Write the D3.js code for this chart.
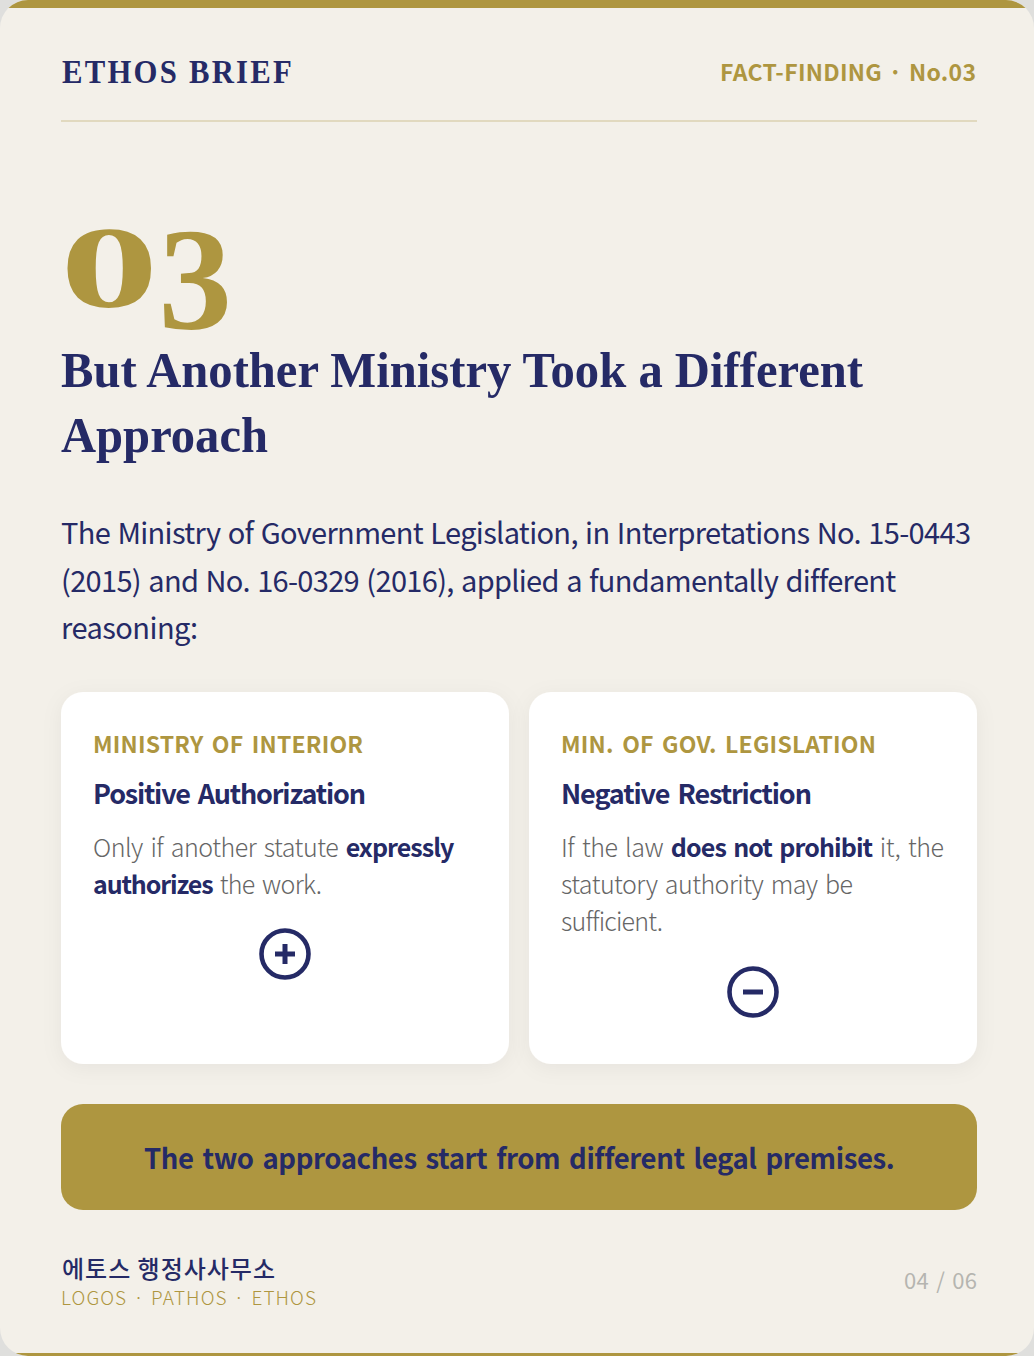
<!DOCTYPE html>
<html>
<head>
<meta charset="utf-8">
<script src="https://d3js.org/d3.v7.min.js"></script>
<style>
html, body { margin: 0; padding: 0; background: #dfdfdd; }
svg { display: block; }
</style>
</head>
<body>
<div id="card"></div>
<script>
// Text content
var brand = "ETHOS BRIEF";
var tag = "FACT-FINDING · No.03";
var bigNumber = ["0", "3"];
var titleLines = ["But Another Ministry Took a Different", "Approach"];
var introLines = [
    "The Ministry of Government Legislation, in Interpretations No. 15-0443",
    "(2015) and No. 16-0329 (2016), applied a fundamentally different",
    "reasoning:"
];
var cardLabels = ["MINISTRY OF INTERIOR", "MIN. OF GOV. LEGISLATION"];
var cardTitles = ["Positive Authorization", "Negative Restriction"];
// each line is a list of [text, bold?] runs
var cardBodies = [
    [[["Only if another statute ", 0], ["expressly", 1]],
     [["authorizes", 1], [" the work.", 0]]],
    [[["If the law ", 0], ["does not prohibit", 1], [" it, the", 0]],
     [["statutory authority may be", 0]],
     [["sufficient.", 0]]]
];
var cardIcons = ["plus", "minus"];
var bannerText = "The two approaches start from different legal premises.";
var footerName = "에토스 행정사사무소";
var footerSub = "LOGOS · PATHOS · ETHOS";
var pageLabel = "04 / 06";

var navy = "#252a66", gold = "#ae9640", paper = "#f3f0e9", grey = "#666666";
var sans = "'Noto Sans CJK KR', 'Noto Sans', sans-serif";
var serif = "'Liberation Serif', serif";

var W = 1034, H = 1356;
var svg = d3.select("#card").append("svg")
    .attr("width", W)
    .attr("height", H)
    .attr("viewBox", "0 0 " + W + " " + H);

var defs = svg.append("defs");
var shadow = defs.append("filter").attr("id", "shadow")
    .attr("x", "-10%").attr("y", "-10%").attr("width", "120%").attr("height", "125%");
shadow.append("feDropShadow")
    .attr("dx", 0).attr("dy", 4).attr("stdDeviation", 10)
    .attr("flood-color", "#000").attr("flood-opacity", 0.05);
defs.append("clipPath").attr("id", "pageClip").append("rect")
    .attr("width", W).attr("height", H).attr("rx", 28).attr("ry", 28);

// Page with gold edges
var page = svg.append("g").attr("clip-path", "url(#pageClip)");
page.append("rect").attr("width", W).attr("height", H).attr("fill", paper);
page.append("rect").attr("width", W).attr("height", 8).attr("fill", gold);
page.append("rect").attr("y", H - 3).attr("width", W).attr("height", 3).attr("fill", gold);

// Adds a line of text with extra word gaps, letters take up the rest of the width
function addLine(parent, str, x, y, size, weight, color, family, width, wordGap) {
    var t = parent.append("text")
        .attr("x", x).attr("y", y)
        .attr("font-size", size).attr("font-weight", weight)
        .attr("font-family", family).attr("fill", color)
        .attr("word-spacing", wordGap || 0)
        .text(str);
    var len = t.node().getComputedTextLength();
    t.attr("letter-spacing", ((width - len) / (str.length - 1)).toFixed(3));
    return t;
}

// Header
svg.append("text")
    .attr("x", 62).attr("y", 83)
    .attr("font-size", 34.5).attr("font-weight", 700)
    .attr("font-family", serif).attr("fill", navy)
    .attr("letter-spacing", 2.5)
    .attr("textLength", 232).attr("lengthAdjust", "spacingAndGlyphs")
    .text(brand);
addLine(svg, tag, 720, 80.5, 23, 700, gold, sans, 256, 1);
svg.append("line")
    .attr("x1", 61).attr("x2", 977).attr("y1", 121).attr("y2", 121)
    .attr("stroke", "#e1d9bf").attr("stroke-width", 2);

// Big number, the second digit hangs below the baseline
var num = svg.append("text")
    .attr("x", 60).attr("y", 307)
    .attr("font-family", serif).attr("font-weight", 700).attr("fill", gold);
num.append("tspan").attr("font-size", 116).attr("textLength", 98.5)
    .attr("lengthAdjust", "spacingAndGlyphs").text(bigNumber[0]);
num.append("tspan").attr("font-size", 146).attr("dy", 22).attr("textLength", 73.5)
    .attr("lengthAdjust", "spacingAndGlyphs").text(bigNumber[1]);

// Title
var titleY = d3.scalePoint().domain(titleLines).range([387, 452]);
var titleWidths = [802, 207];
titleLines.forEach(function(d, i) {
    svg.append("text")
        .attr("x", 61).attr("y", titleY(d))
        .attr("font-size", 50).attr("font-weight", 700)
        .attr("font-family", serif).attr("fill", navy)
        .attr("textLength", titleWidths[i]).attr("lengthAdjust", "spacingAndGlyphs")
        .text(d);
});

// Intro paragraph
var introWidths = [910, 835, 137];
introLines.forEach(function(d, i) {
    addLine(svg, d, 61, 544 + i * 47.5, 29, 400, navy, sans, introWidths[i], 1.5);
});

// Two cards
var cardX = d3.scaleOrdinal().domain([0, 1]).range([61, 529]);
var iconY = [954, 992];
var labelWidths = [270, 315], titleW = [273, 251];
var bodyWidths = [[361, 229], [383, 292, 102]];

cardLabels.forEach(function(label, i) {
    var x = cardX(i), g = svg.append("g");
    g.append("rect")
        .attr("x", x).attr("y", 692).attr("width", 448).attr("height", 372)
        .attr("rx", 22).attr("fill", "#fff").attr("filter", "url(#shadow)");
    addLine(g, label, x + 32, 753, 23, 600, gold, sans, labelWidths[i], 3);
    addLine(g, cardTitles[i], x + 32, 804, 27, 600, navy, sans, titleW[i], 3);

    cardBodies[i].forEach(function(runs, j) {
        var t = g.append("text")
            .attr("x", x + 32).attr("y", 857 + j * 37)
            .attr("font-size", 25).attr("font-family", sans).attr("fill", grey)
            .attr("word-spacing", 2.5)
            .style("white-space", "pre");
        var spans = runs.map(function(r) {
            return t.append("tspan")
                .attr("font-weight", r[1] ? 700 : 300)
                .attr("fill", r[1] ? navy : grey)
                .attr("letter-spacing", r[1] ? -0.45 : 0)
                .text(r[0]);
        });
        // share out what is left of the width over all letters
        var extra = (bodyWidths[i][j] - t.node().getComputedTextLength()) / (t.text().length - 1);
        spans.forEach(function(s, k) {
            s.attr("letter-spacing", (runs[k][1] ? -0.45 : 0) + extra);
        });
    });

    // Plus or minus in a ring
    var cx = x + 224, cy = iconY[i];
    var icon = g.append("g").attr("transform", "translate(" + cx + "," + cy + ")");
    icon.append("circle").attr("r", 23.5).attr("fill", "none")
        .attr("stroke", navy).attr("stroke-width", 4.6);
    icon.append("path")
        .attr("d", cardIcons[i] === "plus" ? "M-10,0H10M0,-10V10" : "M-10,0H10")
        .attr("stroke", navy).attr("stroke-width", 5).attr("fill", "none");
});

// Banner
svg.append("rect")
    .attr("x", 61).attr("y", 1104).attr("width", 916).attr("height", 106)
    .attr("rx", 22).attr("fill", gold);
addLine(svg, bannerText, 144, 1169, 27.5, 600, navy, sans, 750, 3);

// Footer
addLine(svg, footerName, 62, 1278, 24, 500, navy, sans, 213, 0);
addLine(svg, footerSub, 61, 1305, 19, 300, gold, sans, 255, 1);
addLine(svg, pageLabel, 904, 1289, 22, 400, "#b5b5b0", sans, 73, 2);
</script>
</body>
</html>
